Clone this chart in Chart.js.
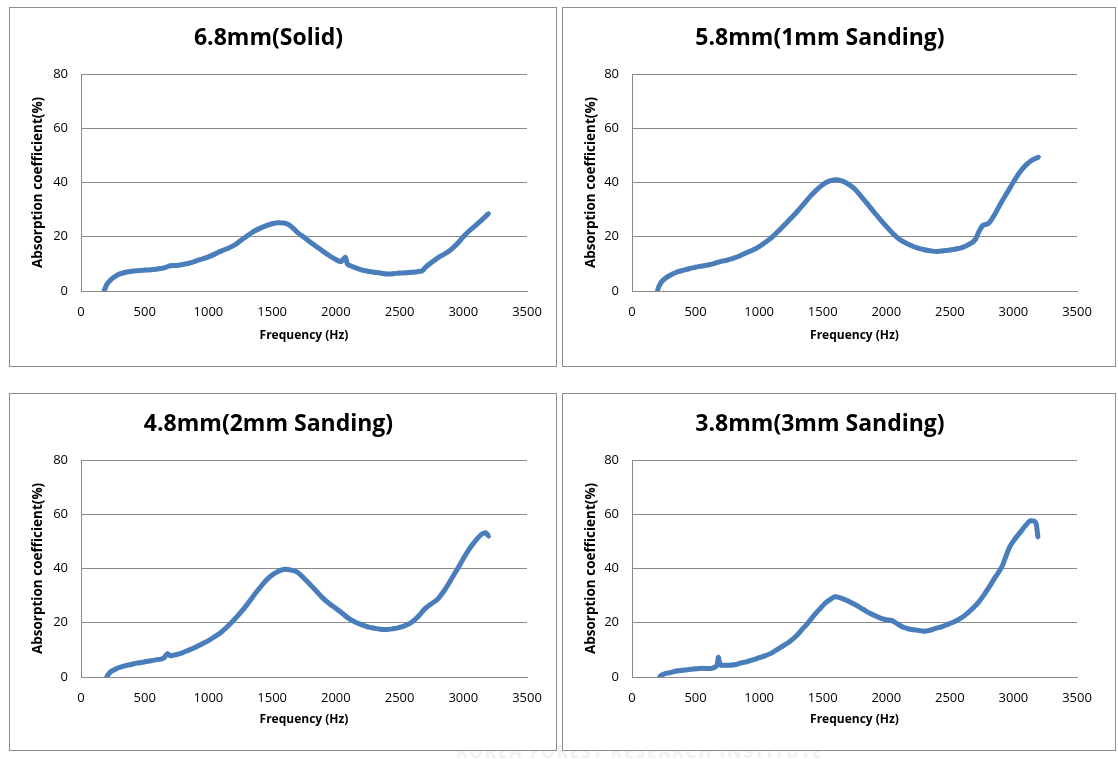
<!DOCTYPE html>
<html>
<head>
<meta charset="utf-8">
<script src="https://cdn.jsdelivr.net/npm/chart.js@4.4.1/dist/chart.umd.min.js"></script>
<style>
  html, body { margin: 0; padding: 0; background: #ffffff; }
  body { width: 1118px; height: 759px; position: relative; overflow: hidden; }
  .panel { position: absolute; border: 1px solid #8e8e8e; box-sizing: border-box; background: #fff; }
  .panel canvas { position: absolute; left: 0; top: 0; }
  #wm { position: absolute; left: 430px; top: 740px; width: 420px; text-align: center;
        font: bold 17px "Open Sans", sans-serif; color: #f1f1f1; letter-spacing: 2px; }
</style>
</head>
<body>
<div id="wm">KOREA FOREST RESEARCH INSTITUTE</div>
<div class="panel" id="p1"><canvas id="c1"></canvas></div>
<div class="panel" id="p2"><canvas id="c2"></canvas></div>
<div class="panel" id="p3"><canvas id="c3"></canvas></div>
<div class="panel" id="p4"><canvas id="c4"></canvas></div>
<script>
// ---------- DATA ----------
const titles = ["6.8mm(Solid)", "5.8mm(1mm Sanding)", "4.8mm(2mm Sanding)", "3.8mm(3mm Sanding)"];
const xAxisTitle = "Frequency (Hz)";
const yAxisTitle = "Absorption coefficient(%)";
const xTicks = [0, 500, 1000, 1500, 2000, 2500, 3000, 3500];
const yTicks = [0, 20, 40, 60, 80];

const freqSolid = [180,190,200,215,230,250,275,300,350,400,450,500,550,600,650,700,750,800,850,900,950,1000,1050,1100,1150,1200,1250,1300,1350,1400,1450,1500,1550,1600,1650,1700,1750,1800,1850,1900,1950,2000,2040,2060,2075,2090,2110,2150,2200,2250,2300,2350,2400,2450,2500,2550,2600,2650,2680,2700,2750,2800,2850,2900,2950,3000,3050,3100,3150,3200];
const absSolid  = [0,1,2.2,3.2,4,4.8,5.6,6.2,6.9,7.3,7.5,7.7,7.8,8.1,8.5,9.3,9.4,9.8,10.3,11,11.8,12.6,13.6,14.7,15.7,16.8,18.5,20.2,21.8,23,24,24.8,25.2,25,23.8,21.5,19.8,18,16.3,14.6,13,11.6,10.8,11.8,12.4,10,9.4,8.6,7.8,7.3,6.9,6.6,6.3,6.4,6.6,6.7,6.9,7.2,7.5,8.6,10.5,12.2,13.6,15.1,17.3,20,22.3,24.3,26.4,28.6];

const freq1mm = [200,215,230,250,275,300,350,400,450,500,550,600,650,700,750,800,850,900,950,1000,1050,1100,1150,1200,1250,1300,1350,1400,1450,1500,1550,1600,1650,1700,1750,1800,1850,1900,1950,2000,2050,2100,2150,2200,2250,2300,2350,2400,2450,2500,2550,2600,2650,2700,2730,2760,2800,2850,2900,2950,3000,3050,3100,3150,3200];
const abs1mm  = [0.3,2,3.2,4.2,5.1,5.8,6.9,7.6,8.2,8.8,9.2,9.6,10.2,10.9,11.4,12.1,13,14.1,15.1,16.4,18,19.8,22,24.4,26.8,29.3,32,34.8,37.2,39.2,40.5,41,40.6,39.4,37.7,35,32.2,29.3,26.5,23.8,21.3,19.2,17.8,16.7,15.8,15.2,14.8,14.6,14.8,15.1,15.5,16.1,17.2,19,22,24.2,24.8,28,32.3,36.2,40.2,43.8,46.5,48.3,49.4];

const freq2mm = [200,215,230,250,275,300,350,400,450,500,550,600,650,680,700,750,800,850,900,950,1000,1050,1100,1150,1200,1250,1300,1350,1400,1450,1500,1550,1600,1650,1700,1750,1800,1850,1900,1950,2000,2050,2100,2150,2200,2250,2300,2350,2400,2450,2500,2550,2600,2650,2700,2750,2800,2850,2900,2950,3000,3050,3100,3150,3175,3200];
const abs2mm  = [0.1,1,1.8,2.4,3,3.5,4.2,4.7,5.2,5.6,6,6.4,7,8.6,7.8,8.3,9,10,11,12.2,13.4,14.9,16.5,18.6,21,23.6,26.5,29.7,32.7,35.5,37.6,39,39.7,39.4,38.6,36.4,34,31.5,29,27,25.3,23.5,21.6,20.3,19.3,18.5,18,17.6,17.5,17.8,18.3,19.1,20.4,22.5,25.2,27,28.8,31.8,35.6,39.5,43.6,47.4,50.5,52.8,53.2,51.8];

const freq3mm = [215,230,257,300,350,400,450,500,550,600,640,670,680,690,704,750,816,850,900,956,1000,1050,1096,1150,1200,1236,1300,1350,1375,1431,1475,1515,1560,1599,1655,1700,1750,1795,1840,1879,1930,1990,2046,2090,2130,2170,2214,2260,2298,2340,2382,2440,2494,2540,2577,2630,2689,2730,2773,2815,2857,2913,2940,2969,3010,3053,3095,3137,3165,3180,3193];
const abs3mm  = [0,0.6,1.2,1.6,2.2,2.5,2.8,3,3.2,3.1,3.4,4.5,7.3,5,4.3,4.3,4.6,5.1,5.6,6.4,7.1,7.9,8.8,10.4,11.8,12.9,15.5,18.2,19.4,22.7,25,27,28.6,29.6,28.9,28,26.8,25.6,24.3,23.3,22.2,21.2,20.8,19.5,18.4,17.8,17.4,17.1,16.9,17.2,17.8,18.6,19.6,20.5,21.4,23.2,25.7,27.8,30.6,33.6,36.8,41,44.4,47.8,50.8,53.3,55.8,57.6,57.4,56.2,51.5];

const seriesFreq = [freqSolid, freq1mm, freq2mm, freq3mm];
const seriesAbs  = [absSolid, abs1mm, abs2mm, abs3mm];

// ---------- LAYOUT (panel boxes and plot-area offsets) ----------
const panels = [
  { id: "p1", cv: "c1", left: 9,   top: 7,   w: 548, h: 360, plotL: 71, padR: 29, plotT: 66, below: 75 },
  { id: "p2", cv: "c2", left: 562, top: 7,   w: 554, h: 360, plotL: 69, padR: 38, plotT: 66, below: 75 },
  { id: "p3", cv: "c3", left: 9,   top: 393, w: 548, h: 358, plotL: 71, padR: 29, plotT: 66, below: 73 },
  { id: "p4", cv: "c4", left: 562, top: 393, w: 554, h: 358, plotL: 69, padR: 38, plotT: 66, below: 73 }
];

const blue = "#4a7ebb";
const gridGray = "#8a8a8a";
const fontFam = "'Open Sans', 'Noto Sans', sans-serif";

panels.forEach((p, i) => {
  const div = document.getElementById(p.id);
  div.style.left = p.left + "px"; div.style.top = p.top + "px";
  div.style.width = p.w + "px"; div.style.height = p.h + "px";
  const cw = p.w - 2, ch = p.h - 2;
  const cvs = document.getElementById(p.cv);
  cvs.width = cw; cvs.height = ch;
  cvs.style.width = cw + "px"; cvs.style.height = ch + "px";

  const pts = seriesFreq[i].map((f, k) => ({ x: f, y: seriesAbs[i][k] }));
  const titleSize = 23, titleLH = titleSize * 1.2;
  const titleCenter = 30;
  const tPadTop = titleCenter - titleLH / 2;
  const tPadBot = p.plotT - titleLH - tPadTop;
  const xtSize = 12, xtLH = xtSize * 1.2;

  new Chart(cvs, {
    type: "scatter",
    data: {
      datasets: [{
        data: pts,
        showLine: true,
        borderColor: blue,
        borderWidth: 5,
        tension: 0.35,
        cubicInterpolationMode: "monotone",
        backgroundColor: blue,
        pointStyle: "rectRot",
        pointRadius: 2.6,
        pointBorderWidth: 0,
        pointHoverRadius: 2.6
      }]
    },
    options: {
      responsive: false,
      animation: false,
      devicePixelRatio: 1,
      layout: { padding: { left: 0, right: p.padR, top: 0, bottom: 0 } },
      plugins: {
        legend: { display: false },
        tooltip: { enabled: false },
        title: {
          display: true,
          text: titles[i],
          color: "#000",
          font: { family: fontFam, size: titleSize, weight: "bold", lineHeight: 1.2 },
          padding: { top: tPadTop, bottom: tPadBot }
        }
      },
      scales: {
        x: {
          type: "linear",
          min: 0, max: 3500,
          afterBuildTicks: (s) => { s.ticks = xTicks.map(v => ({ value: v })); },
          afterFit: (s) => { s.height = p.below; },
          grid: { display: false, drawTicks: false },
          border: { display: true, color: gridGray, width: 1 },
          ticks: { color: "#000", padding: 13, maxRotation: 0, autoSkip: false,
                   callback: (v) => String(v),
                   font: { family: fontFam, size: 13 } },
          title: { display: true, text: xAxisTitle, color: "#000",
                   font: { family: fontFam, size: xtSize, weight: "bold", lineHeight: 1.2 },
                   padding: { top: 0, bottom: 30 - xtLH / 2 } }
        },
        y: {
          type: "linear",
          min: 0, max: 80,
          afterBuildTicks: (s) => { s.ticks = yTicks.map(v => ({ value: v })); },
          afterFit: (s) => { s.width = p.plotL; },
          grid: { display: true, color: gridGray, lineWidth: 1, drawTicks: false },
          border: { display: true, color: gridGray, width: 1 },
          ticks: { color: "#000", padding: 13, callback: (v) => String(v),
                   font: { family: fontFam, size: 13 } },
          title: { display: true, text: yAxisTitle, color: "#000",
                   font: { family: fontFam, size: 13.5, weight: "bold", lineHeight: 1.2 },
                   padding: { top: 28 - 8.1, bottom: 0 } }
        }
      }
    }
  });
});
</script>
</body>
</html>
